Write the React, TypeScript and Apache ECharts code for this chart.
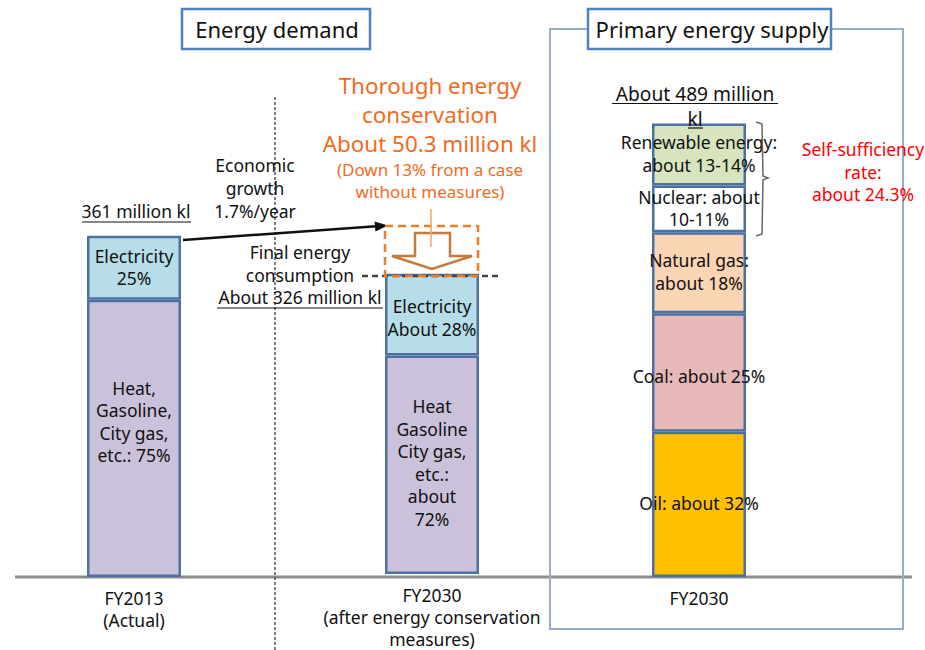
import React, { useEffect, useRef } from "react";
import * as echarts from "echarts";

// Categories (x axis labels)
const categories = [
  "FY2013\n(Actual)",
  "FY2030\n(after energy conservation\nmeasures)",
  "FY2030",
];

// Energy demand FY2013 (million kl, as drawn): heat etc., electricity
const demand2013Values = [297, 68.5];
const demand2013Labels = ["Heat,\nGasoline,\nCity gas,\netc.: 75%", "Electricity\n25%"];

// Energy demand FY2030 (million kl, as drawn): heat etc., electricity
const demand2030Values = [235.5, 88];
const demand2030Labels = [
  "Heat\nGasoline\nCity gas,\netc.:\nabout\n72%",
  "Electricity\nAbout 28%",
];

// Primary energy supply FY2030 (million kl, as drawn)
const supplyValues = [155.5, 127, 87, 50, 66.5];
const supplyLabels = [
  "Oil: about 32%",
  "Coal: about 25%",
  "Natural gas:\nabout 18%",
  "Nuclear: about\n10-11%",
  "Renewable energy:\nabout 13-14%",
];

const FONT = "'Noto Sans', 'Open Sans', sans-serif";
const BORDER = "#4d70a3";
const FS = 17.5;

export default function App() {
  const ref = useRef<HTMLDivElement>(null);

  useEffect(() => {
    if (!ref.current) return;
    const chart = echarts.init(ref.current, undefined, { renderer: "svg" });

    const gridLefts = [34, 332, 599];
    const grids = gridLefts.map((l) => ({ left: l, width: 200, top: 17, height: 560 }));
    const xAxes = categories.map((c, i) => ({
      type: "category" as const,
      gridIndex: i,
      data: [c],
      axisLine: { show: false },
      axisTick: { show: false },
      splitLine: { show: false },
      axisLabel: {
        fontSize: FS,
        lineHeight: 22,
        color: "#111",
        margin: 10,
        fontFamily: FONT,
        interval: 0,
      },
    }));
    const yAxes = categories.map((_, i) => ({
      type: "value" as const,
      gridIndex: i,
      min: 0,
      max: 600,
      show: false,
    }));

    const seg = (
      g: number,
      value: number,
      color: string,
      text: string,
      offset: number[] = [0, 0]
    ) => ({
      type: "bar",
      xAxisIndex: g,
      yAxisIndex: g,
      stack: "s" + g,
      barWidth: 94,
      silent: true,
      data: [value],
      itemStyle: { color, borderColor: BORDER, borderWidth: 2.5 },
      label: {
        show: true,
        position: "inside",
        formatter: text,
        fontSize: FS,
        lineHeight: 22.5,
        color: "#111",
        fontFamily: FONT,
        textBorderWidth: 0,
        offset,
      },
      z: 3,
    });

    const demandColors = ["#ccc1da", "#b7dde8"];
    const supplyColors = ["#ffc000", "#e6b9b8", "#fcd5b5", "#ffffff", "#d7e4bd"];

    const series: any[] = [];
    demand2013Values.forEach((v, i) =>
      series.push(seg(0, v, demandColors[i], demand2013Labels[i], i === 0 ? [0, -17] : [0, -1]))
    );
    demand2030Values.forEach((v, i) =>
      series.push(seg(1, v, demandColors[i], demand2030Labels[i], i === 0 ? [0, -2] : [0, 3]))
    );
    supplyValues.forEach((v, i) =>
      series.push(seg(2, v, supplyColors[i], supplyLabels[i], i === 1 ? [0, 3] : [0, -1]))
    );

    const txt = (
      x: number,
      y: number,
      text: string,
      fontSize = FS,
      fill = "#111",
      lineHeight = 23
    ) => ({
      type: "text",
      x,
      y,
      z: 20,
      style: {
        text,
        fontSize,
        fill,
        fontFamily: FONT,
        align: "center",
        verticalAlign: "middle",
        lineHeight,
      },
    });
    const line = (x1: number, y1: number, x2: number, y2: number, stroke = "#111", lineWidth = 1.2, lineDash?: number[], z = 20) => ({
      type: "line",
      z,
      shape: { x1, y1, x2, y2 },
      style: { stroke, lineWidth, lineDash },
    });

    const graphic: any[] = [
      // baseline
      line(15, 577, 912, 577, "#8c8c8c", 3, undefined, 1),
      // vertical dashed divider
      line(275, 97, 275, 650, "#555", 1.5, [3, 2], 1),
      // supply frame
      {
        type: "rect",
        z: 1,
        shape: { x: 550, y: 29, width: 353, height: 600 },
        style: { fill: "none", stroke: "#97abcb", lineWidth: 2 },
      },
      // title boxes
      {
        type: "rect",
        z: 5,
        shape: { x: 182, y: 9, width: 188, height: 40 },
        style: { fill: "#fff", stroke: "#4f81bd", lineWidth: 2.5 },
      },
      txt(277, 29, "Energy demand", 22, "#111", 24),
      {
        type: "rect",
        z: 5,
        shape: { x: 588, y: 9, width: 243, height: 40 },
        style: { fill: "#fff", stroke: "#4f81bd", lineWidth: 2.5 },
      },
      txt(712, 29, "Primary energy supply", 22, "#111", 24),
      // 361 million kl
      txt(136, 211, "361 million kl", FS, "#111", 19),
      line(82, 222, 191, 222),
      // economic growth
      txt(255, 188, "Economic\ngrowth\n1.7%/year"),
      // arrow
      line(183, 240, 376, 226.3, "#111", 2.5),
      {
        type: "polygon",
        z: 20,
        shape: { points: [[388, 225.4], [375.4, 231.4], [374.6, 221.4]] },
        style: { fill: "#111" },
      },
      // final energy consumption
      txt(300, 274.5, "Final energy\nconsumption\nAbout 326 million kl", FS, "#111", 22.5),
      line(217, 308, 383, 308),
      // dashed line at top of 2030 demand
      line(362, 276, 500, 276, "#444", 2.5, [6, 4]),
      // orange dashed box
      {
        type: "rect",
        z: 21,
        shape: { x: 385, y: 226, width: 93, height: 50 },
        style: { fill: "none", stroke: "#f07c28", lineWidth: 2.5, lineDash: [8, 5] },
      },
      // block arrow
      {
        type: "polygon",
        z: 20,
        shape: {
          points: [
            [415, 233],
            [450, 233],
            [450, 256],
            [472, 256],
            [432, 269],
            [392, 256],
            [415, 256],
          ],
        },
        style: { fill: "#fff", stroke: "#c57a3e", lineWidth: 2.5 },
      },
      line(431, 209, 431, 247, "#f5a567", 1.5, undefined, 21),
      // orange texts (one rich text block)
      {
        type: "text",
        x: 430,
        y: 71,
        z: 20,
        style: {
          text:
            "{a|Thorough energy}\n{a|conservation}\n{a|About 50.3 million kl}\n{b|(Down 13% from a case}\n{b|without measures)}",
          fontFamily: FONT,
          fill: "#f26b1d",
          align: "center",
          verticalAlign: "top",
          rich: {
            a: { fontSize: 22.4, lineHeight: 29, fill: "#f26b1d", fontFamily: FONT, align: "center" },
            b: { fontSize: 17, lineHeight: 22, fill: "#f26b1d", fontFamily: FONT, align: "center" },
          },
        },
      },
      // supply total
      txt(695, 105.5, "About 489 million\nkl", 19.2, "#111", 25),
      line(612, 103.5, 778, 103.5),
      line(688, 128, 703, 128),
      // brace
      {
        type: "polyline",
        z: 20,
        shape: {
          points: [
            [756, 122],
            [762, 124],
            [763, 176],
            [768, 178],
            [763, 180],
            [762, 234],
            [756, 236],
          ],
        },
        style: { stroke: "#666", lineWidth: 1.5, fill: "none" },
      },
      // self-sufficiency
      txt(863, 171.5, "Self-sufficiency\nrate:\nabout 24.3%", FS, "#ff0000", 22.5),
    ];

    chart.setOption({
      animation: false,
      backgroundColor: "#fff",
      textStyle: { fontFamily: FONT },
      grid: grids,
      xAxis: xAxes,
      yAxis: yAxes,
      series,
      graphic,
    });

    return () => chart.dispose();
  }, []);

  return (
    <div
      ref={ref}
      style={{ position: "fixed", left: 0, top: 0, width: 925, height: 650 }}
    />
  );
}
